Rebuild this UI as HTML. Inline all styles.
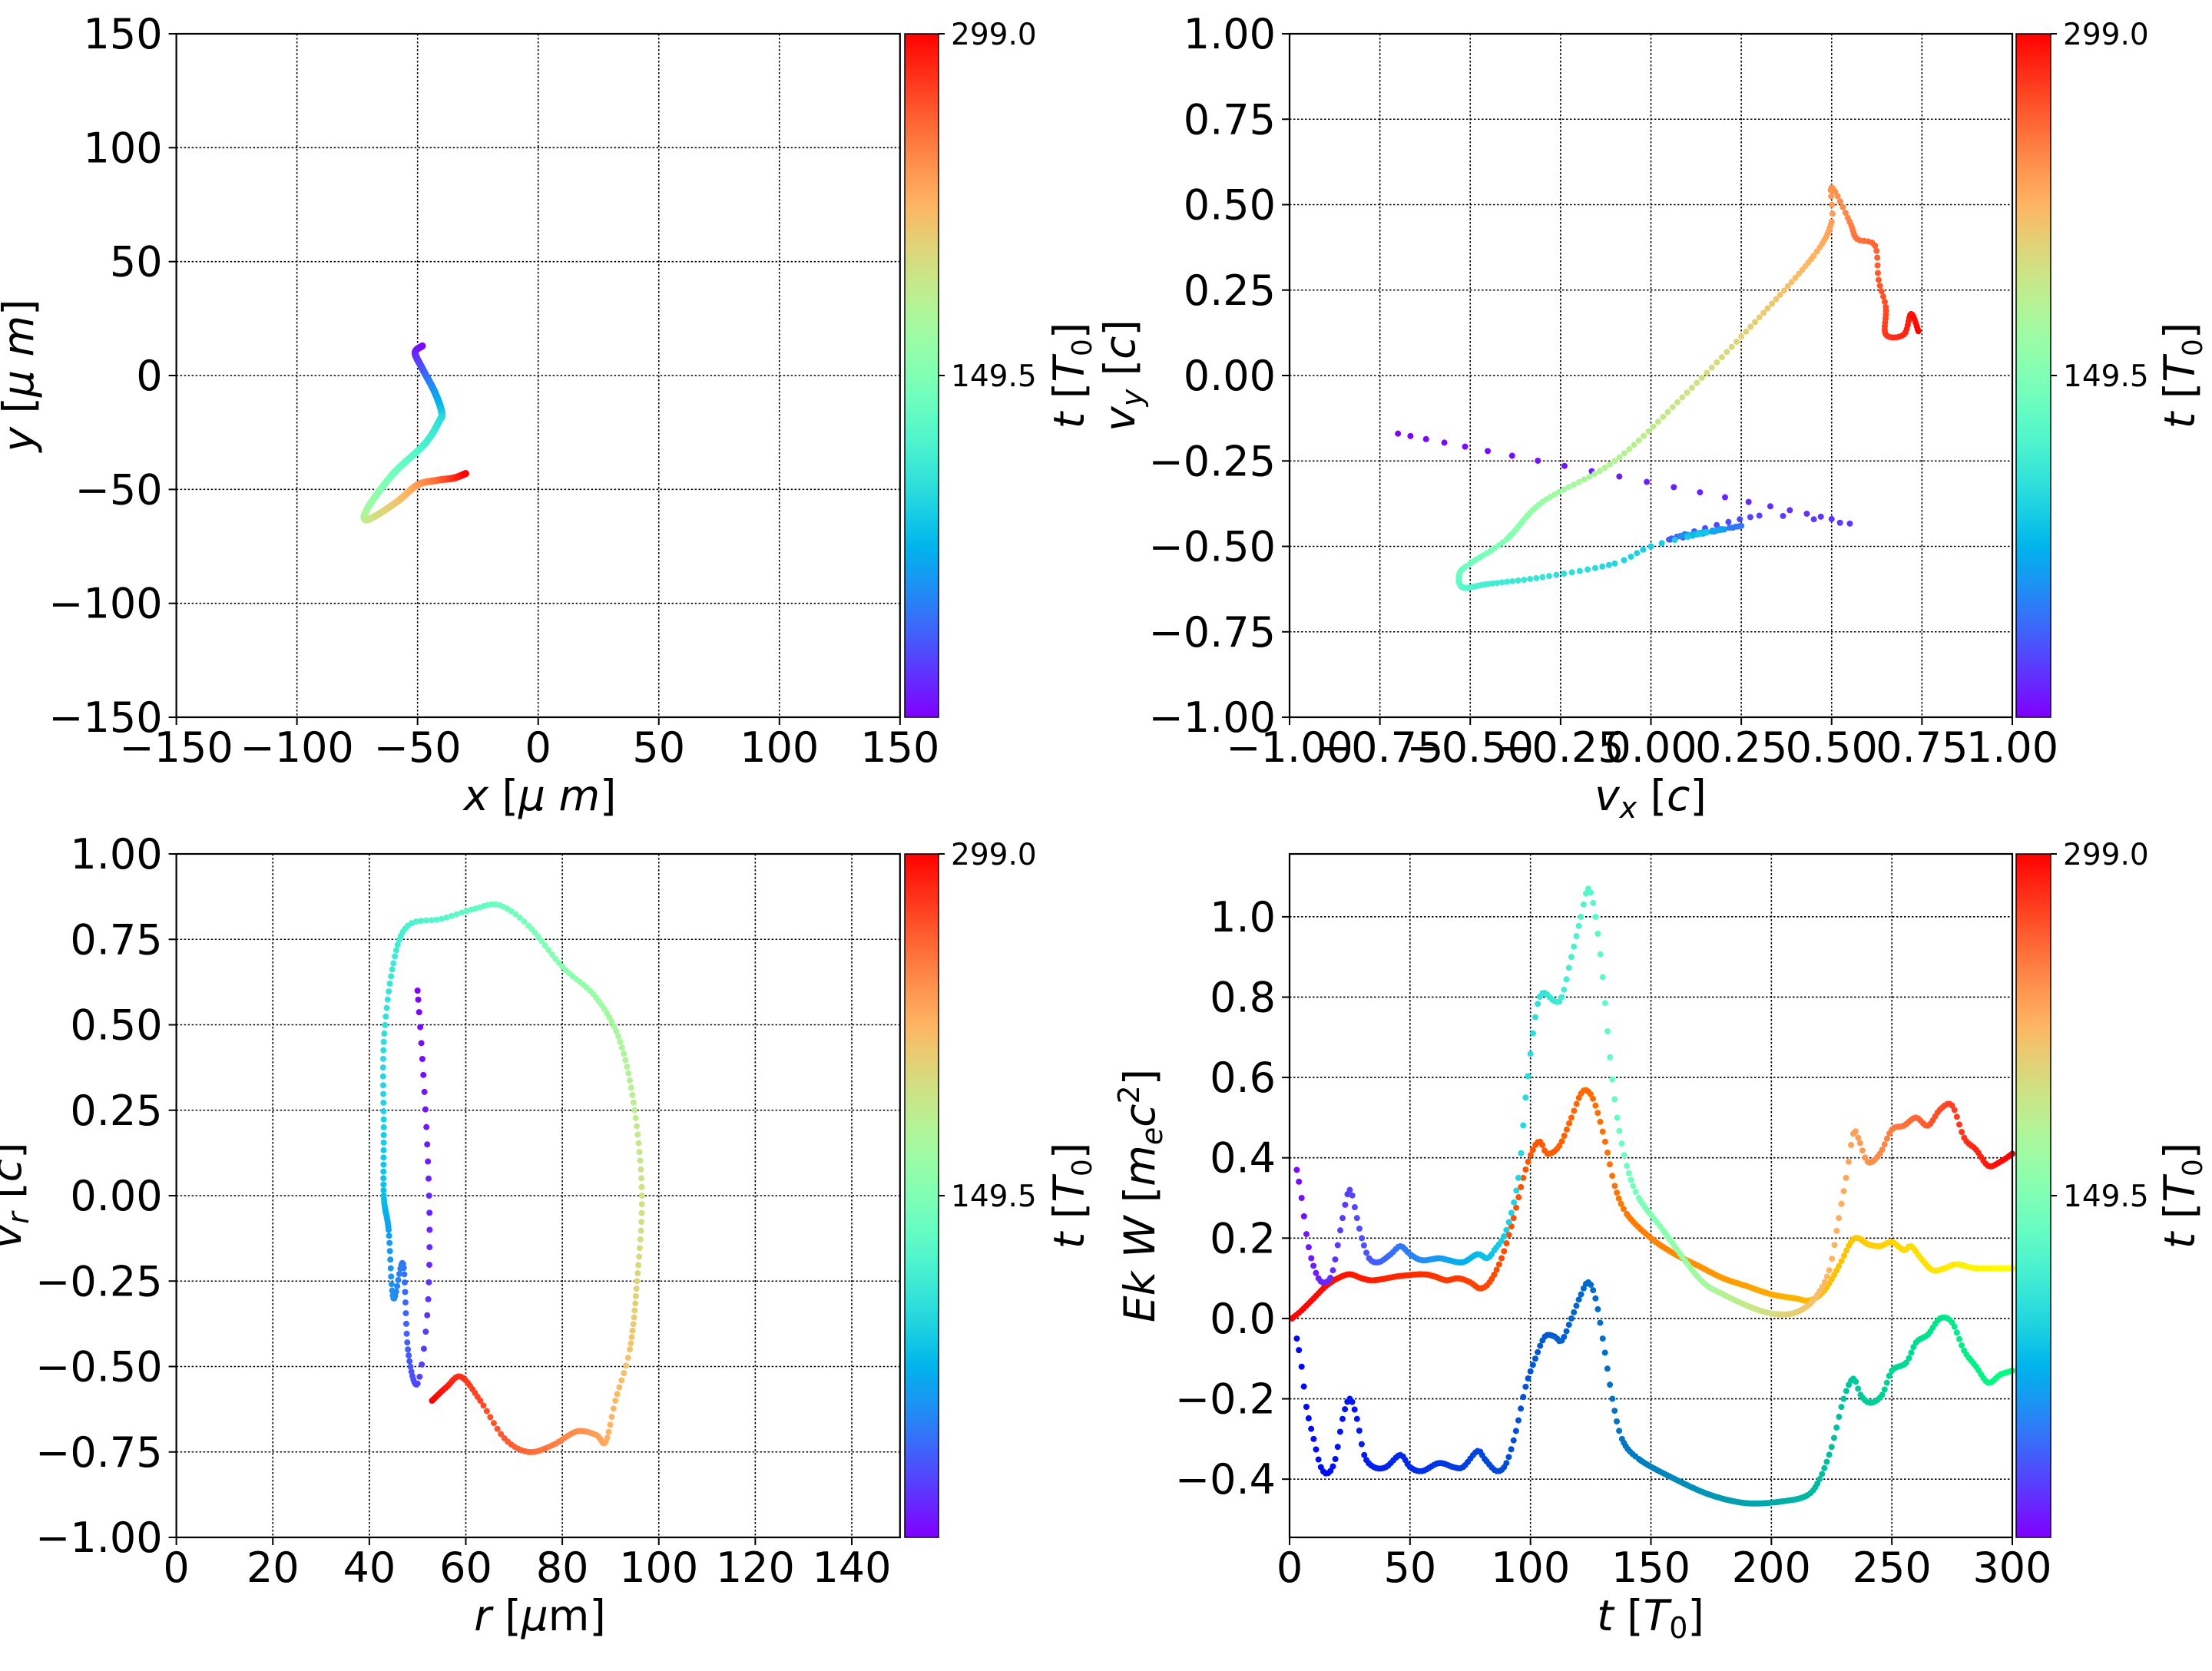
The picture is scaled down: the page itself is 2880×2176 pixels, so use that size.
<!DOCTYPE html>
<html><head><meta charset="utf-8">
<style>
html,body{margin:0;padding:0;background:#fff;}
svg{display:block;}
text{font-family:"DejaVu Sans","Liberation Sans",sans-serif;fill:#000;}
</style></head>
<body>
<svg id="s" xmlns="http://www.w3.org/2000/svg" width="2880" height="2176" viewBox="0 0 2880 2176">
<defs>
<linearGradient id="rb" x1="0" y1="1" x2="0" y2="0"></linearGradient>
</defs>
</svg>
<script>
const S=document.getElementById('s');
const NS='http://www.w3.org/2000/svg';
function el(tag,attrs,parent){const e=document.createElementNS(NS,tag);for(const k in attrs)e.setAttribute(k,attrs[k]);(parent||S).appendChild(e);return e;}
const c255=v=>Math.round(255*Math.max(0,Math.min(1,v)));
function rainbow(x){x=Math.max(0,Math.min(1,x));let r=Math.abs(2*x-0.5),g=Math.sin(Math.PI*x),b=Math.cos(Math.PI*x/2);
 return `rgb(${c255(r)},${c255(g)},${c255(b)})`;}
const gr=document.getElementById('rb');
for(let i=0;i<=20;i++){el('stop',{offset:(i/20),'stop-color':rainbow(i/20)},gr);}
const minus=s=>String(s).replace('-','\u2212');
function panel(p){
 const {x0,x1,y0,y1,xmin,xmax,ymin,ymax,xt,yt,xf,yf}=p;
 p.X=v=>x0+(v-xmin)/(xmax-xmin)*(x1-x0);
 p.Y=v=>y1-(v-ymin)/(ymax-ymin)*(y1-y0);
 xt.forEach(v=>{const x=p.X(v);el('line',{x1:x,x2:x,y1:y0,y2:y1,stroke:'#000','stroke-width':1.6,'stroke-dasharray':'2.5,2.5'});
   el('line',{x1:x,x2:x,y1:y1,y2:y1+10,stroke:'#000','stroke-width':2});
   const t=el('text',{x:x,y:y1+58,'text-anchor':'middle','font-size':54});t.textContent=minus(xf(v));});
 yt.forEach(v=>{const y=p.Y(v);el('line',{x1:x0,x2:x1,y1:y,y2:y,stroke:'#000','stroke-width':1.6,'stroke-dasharray':'2.5,2.5'});
   el('line',{x1:x0-10,x2:x0,y1:y,y2:y,stroke:'#000','stroke-width':2});
   const t=el('text',{x:x0-18,y:y+19,'text-anchor':'end','font-size':54});t.textContent=minus(yf(v));});
}
function frame(p){el('rect',{x:p.x0,y:p.y0,width:p.x1-p.x0,height:p.y1-p.y0,fill:'none',stroke:'#000','stroke-width':2.2});}
function cbar(cx0,cx1,y0,y1,lx){
 el('rect',{x:cx0,y:y0,width:cx1-cx0,height:y1-y0,fill:'url(#rb)',stroke:'#000','stroke-width':1.5});
 [[y0,'299.0'],[(y0+y1)/2,'149.5']].forEach(([y,s])=>{el('line',{x1:cx1,x2:cx1+8,y1:y,y2:y,stroke:'#000','stroke-width':2});
  const t=el('text',{x:cx1+16,y:y+14,'font-size':39});t.textContent=s;});
 rotLabel(lx,(y0+y1)/2,'<tspan font-style="italic">t</tspan> [<tspan font-style="italic">T</tspan><tspan font-size="36" dy="10">0</tspan><tspan dy="-10">]</tspan>');
}
function rotLabel(x,y,html){const g=el('g',{transform:`translate(${x},${y}) rotate(-90)`});
 const t=el('text',{x:0,y:19,'text-anchor':'middle','font-size':55},g);t.innerHTML=html;}
function hLabel(x,y,html){const t=el('text',{x:x,y:y+19,'text-anchor':'middle','font-size':55});t.innerHTML=html;}
function cr(pts,t){
 let i=0;while(i<pts.length-2&&pts[i+1][0]<t)i++;
 const p1=pts[i],p2=pts[i+1],p0=pts[Math.max(0,i-1)],p3=pts[Math.min(pts.length-1,i+2)];
 const u=(t-p1[0])/(p2[0]-p1[0]||1);
 const f=k=>{const a=p0[k],b=p1[k],c=p2[k],d=p3[k];
  return 0.5*((2*b)+(-a+c)*u+(2*a-5*b+4*c-d)*u*u+(-a+3*b-3*c+d)*u*u*u);};
 return [f(1),f(2)];}
function dots(p,pts,t0,t1,step,r,colf){
 for(let t=t0;t<=t1+1e-9;t+=step){const [x,y]=cr(pts,t);
  el('circle',{cx:p.X(x),cy:p.Y(y),r:r,fill:colf(t)});}}
const fmt2=v=>v.toFixed(2), fmt0=v=>String(v), fmt1=v=>v.toFixed(1);
const rng=(a,b,s)=>{const o=[];for(let v=a;v<=b+1e-9;v+=s)o.push(Math.round(v*1000)/1000);return o;};
const P1={x0:229.6,x1:1171.8,y0:44,y1:934,xmin:-150,xmax:150,ymin:-150,ymax:150,xt:rng(-150,150,50),yt:rng(-150,150,50),xf:fmt0,yf:fmt0};
const P2={x0:1679,x1:2620,y0:44,y1:934,xmin:-1,xmax:1,ymin:-1,ymax:1,xt:rng(-1,1,0.25),yt:rng(-1,1,0.25),xf:fmt2,yf:fmt2};
const P3={x0:229.6,x1:1171.8,y0:1112,y1:2002,xmin:0,xmax:150,ymin:-1,ymax:1,xt:rng(0,140,20),yt:rng(-1,1,0.25),xf:fmt0,yf:fmt2};
const P4={x0:1679,x1:2620,y0:1112,y1:2002,xmin:0,xmax:300,ymin:-0.545,ymax:1.1565,xt:rng(0,300,50),yt:rng(-0.4,1.0,0.2),xf:fmt0,yf:fmt1};
[P1,P2,P3,P4].forEach(panel);
const rb=t=>rainbow(t/299);
const d1=[[0,-48,13],[10,-51,10],[30,-48,3],[60,-43,-7],[85,-40,-16],[100,-41,-20],[115,-47,-30],[140,-60,-43],[165,-70,-57],[180,-72,-63],[195,-68,-62],[215,-58,-55],[235,-50,-48],[255,-42,-46],[280,-35,-45],[299,-30,-43]];
dots(P1,d1,0,299,0.3,4.5,rb);
const d2=[[0,-0.7,-0.17],[20,0.5,-0.42],[25,0.3,-0.41],[35,0.05,-0.48],[45,0.25,-0.44],[55,0.08,-0.47],[65,0.2,-0.45],[75,0.1,-0.47],[85,0.15,-0.46],[90,0.0,-0.5],[95,-0.1,-0.55],[105,-0.3,-0.59],[115,-0.45,-0.61],[125,-0.52,-0.62],[135,-0.53,-0.58],[140,-0.5,-0.55],[150,-0.4,-0.48],[165,-0.3,-0.37],[180,-0.1,-0.25],[195,0.1,-0.05],[210,0.3,0.17],[225,0.45,0.35],[235,0.5,0.45],[240,0.5,0.55],[248,0.55,0.45],[255,0.57,0.4],[260,0.62,0.38],[265,0.63,0.28],[270,0.65,0.2],[278,0.65,0.12],[285,0.7,0.12],[292,0.72,0.18],[299,0.74,0.13]];
dots(P2,d2,0,299,1,4,rb);
const d3=[[0,50,0.6],[5,51,0.4],[10,52,0.15],[15,52.5,-0.1],[20,52,-0.35],[25,50,-0.55],[35,48,-0.45],[45,47,-0.2],[55,45,-0.3],[65,44,-0.1],[80,43,0.0],[90,43,0.2],[100,43,0.45],[110,45,0.68],[118,48,0.79],[125,55,0.81],[132,62,0.84],[138,67,0.85],[145,73,0.79],[155,80,0.67],[165,87,0.58],[175,92,0.45],[185,95,0.25],[195,96.5,0],[205,95.5,-0.25],[215,94,-0.45],[222,91,-0.6],[228,89,-0.72],[234,87,-0.7],[242,83,-0.69],[250,78,-0.73],[258,73,-0.75],[265,68,-0.71],[272,63,-0.6],[280,59,-0.53],[288,56,-0.56],[299,53,-0.6]];
dots(P3,d3,0,299,1,4,rb);
const A=[[3,0.37],[5,0.3],[7,0.21],[9,0.15],[12,0.1],[15,0.09],[18,0.12],[22,0.25],[25,0.32],[28,0.25],[30,0.2],[33,0.15],[37,0.14],[42,0.16],[46,0.18],[50,0.16],[55,0.145],[62,0.15],[66,0.145],[72,0.14],[78,0.16],[82,0.15],[85,0.17],[90,0.22],[95,0.35],[98,0.55],[102,0.75],[105,0.81],[110,0.79],[113,0.8],[117,0.9],[121,1.0],[124,1.07],[127,1.0],[130,0.85],[133,0.65],[136,0.5],[140,0.38],[145,0.3],[155,0.22],[170,0.1],[180,0.06],[195,0.02],[205,0.01],[212,0.02],[218,0.05],[224,0.12],[228,0.25],[231,0.35],[234,0.46],[236,0.45],[240,0.39],[245,0.41],[250,0.47],[255,0.48],[260,0.5],[265,0.48],[270,0.52],[275,0.53],[280,0.45],[285,0.42],[290,0.38],[295,0.39],[300,0.41]];
const B=[[1,0],[5,0.02],[10,0.05],[15,0.08],[20,0.1],[25,0.11],[30,0.1],[35,0.095],[45,0.105],[55,0.11],[60,0.105],[65,0.095],[70,0.1],[75,0.09],[79,0.075],[83,0.09],[88,0.15],[93,0.25],[97,0.35],[101,0.42],[104,0.44],[107,0.41],[112,0.43],[117,0.5],[121,0.56],[124,0.565],[127,0.53],[131,0.44],[135,0.33],[140,0.26],[150,0.2],[160,0.16],[170,0.13],[180,0.1],[190,0.08],[200,0.06],[210,0.05],[216,0.045],[222,0.07],[228,0.13],[233,0.19],[236,0.2],[240,0.185],[245,0.18],[250,0.19],[255,0.17],[258,0.18],[262,0.15],[267,0.12],[272,0.125],[277,0.135],[285,0.125],[300,0.125]];
const C=[[3,-0.05],[5,-0.12],[7,-0.22],[10,-0.3],[13,-0.37],[16,-0.385],[19,-0.35],[22,-0.25],[25,-0.2],[28,-0.25],[31,-0.34],[35,-0.37],[40,-0.37],[46,-0.34],[50,-0.37],[55,-0.38],[62,-0.36],[68,-0.37],[72,-0.37],[78,-0.33],[81,-0.35],[86,-0.38],[90,-0.36],[94,-0.28],[98,-0.17],[102,-0.1],[106,-0.045],[110,-0.045],[113,-0.055],[117,0],[121,0.06],[124,0.09],[127,0.05],[130,-0.05],[134,-0.2],[138,-0.3],[145,-0.35],[160,-0.4],[175,-0.44],[190,-0.46],[205,-0.455],[215,-0.44],[220,-0.4],[225,-0.32],[230,-0.2],[234,-0.15],[237,-0.19],[241,-0.21],[246,-0.19],[250,-0.13],[256,-0.11],[260,-0.06],[265,-0.04],[270,0],[275,-0.01],[280,-0.08],[285,-0.12],[290,-0.16],[295,-0.14],[300,-0.13]];
const tt=a=>a.map(q=>[q[0],q[0],q[1]]);
const winter=t=>{const x=t/299;return `rgb(0,${c255(x)},${c255(1-x/2)})`;};
const autumn=t=>{const x=t/299;return `rgb(255,${c255(x)},0)`;};
dots(P4,tt(C),3,300,1,4,winter);
dots(P4,tt(B),1,300,1,4,autumn);
dots(P4,tt(A),3,300,1,4,rb);
[P1,P2,P3,P4].forEach(frame);
cbar(1178,1222,44,934,1392);
cbar(2625,2670,44,934,2838);
cbar(1178,1222,1112,2002,1392);
cbar(2625,2670,1112,2002,2838);
const I=s=>`<tspan font-style="italic">${s}</tspan>`;
const sub=s=>`<tspan font-size="38" dy="10">${s}</tspan><tspan dy="-10">`;
hLabel(703,1036,`${I('x')}  [${I('μ m')}]`);
rotLabel(24,489,`${I('y')}  [${I('μ m')}]`);
hLabel(2149,1036,`${I('v')}${sub(I('x'))} [${I('c')}]</tspan>`);
rotLabel(1458,489,`${I('v')}${sub(I('y'))} [${I('c')}]</tspan>`);
hLabel(703,2104,`${I('r')} [${I('μ')}m]`);
rotLabel(8,1557,`${I('v')}${sub(I('r'))} [${I('c')}]</tspan>`);
hLabel(2149,2104,`${I('t')} [${I('T')}${sub('0')}]</tspan>`);
rotLabel(1484,1557,`${I('Ek W')} [${I('m')}${sub(I('e'))}${I('c')}<tspan font-size="38" dy="-20">2</tspan><tspan dy="20">]</tspan></tspan>`);
</script>
</body></html>
